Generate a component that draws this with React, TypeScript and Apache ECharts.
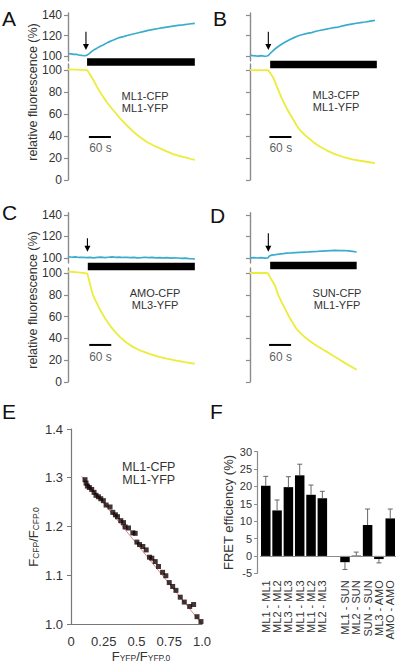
import React, { useEffect, useRef } from "react";
import * as echarts from "echarts";

// ---------------- DATA ----------------
// Panels A-D: time (s) vs relative fluorescence (%)
const A_CFP: number[][] = [[0,102.5],[8,102.1],[16,101.6],[23,101.7],[30,101],[38,100.6],[46,100.3],[52,100.9],[58,102.4],[64,104.3],[71,106.1],[78,107.5],[87,109.4],[96,110.8],[110,113.6],[124,115.7],[137,117.7],[151,119],[164,120.3],[178,121.5],[192,122.7],[205,123.8],[219,125.1],[233,126],[246,126.9],[260,127.7],[274,128.5],[287,129.2],[300,129.9],[314,130.5],[330,131.3],[346,131.8]];
const A_YFP: number[][] = [[0,100.6],[20,100.4],[40,100.2],[52,100],[60,96],[69,90.9],[78,85.4],[87,80.3],[96,75.6],[105,71.2],[114,67.3],[123,63.7],[133,59.8],[142,56.1],[160,49.8],[178,43.9],[196,39.1],[214,34.8],[232,31.6],[251,28.8],[269,26],[287,23.6],[305,21.8],[323,20.3],[335,19.1],[346,18.2]];
const B_CFP: number[][] = [[0,100.9],[8,100.5],[16,100.2],[23,100],[31,100.4],[39,99.8],[46,100.1],[50,100.6],[55,102.5],[61,104.6],[68,106.9],[77,109.3],[86,111.5],[95,113.4],[108,115.9],[120,118],[132,119.8],[144,121],[156,122.1],[168,122.9],[180,124.2],[193,125.2],[205,126],[217,126.9],[229,127.8],[241,128.3],[253,129.4],[265,130.4],[277,131.2],[290,132],[302,132.6],[314,133.2],[325,133.9],[336,134.6],[341,134.7]];
const B_YFP: number[][] = [[0,100],[20,100],[40,100],[50,99.8],[57,96.5],[64,92.6],[72,86],[79,80.4],[86,75],[93,69.8],[100,65.3],[109,60],[118,55],[127,49.8],[136,45.5],[152,40.2],[173,34.4],[191,30.3],[209,27],[230,23.8],[255,20.9],[282,18.6],[300,17.5],[318,16.6],[341,15.3]];
const C_CFP: number[][] = [[0,101.2],[10,100.6],[20,100.9],[30,100.4],[40,100.6],[50,100.2],[60,100.5],[70,100.1],[80,100.4],[90,100.7],[100,100.3],[110,100.6],[120,100.9],[130,100.5],[140,100.8],[150,100.4],[160,100.6],[170,100.2],[180,100.5],[190,100.1],[200,100.3],[210,100.6],[220,100.2],[230,100.5],[240,100.1],[250,100.3],[260,100],[270,100.2],[280,99.8],[290,100.1],[300,99.9],[310,99.6],[320,99.8],[330,99.4],[340,99.2],[346,98.8]];
const C_YFP: number[][] = [[0,101.2],[20,100.8],[40,100.2],[53,99.4],[57,94],[61,88.5],[65,83.5],[68,80],[73,76],[80,71.5],[87,66.5],[94,62.5],[100,59],[108,55],[115,51.5],[124,47.8],[133,44.3],[142,41.2],[160,36],[178,32],[200,28.5],[224,25.5],[246,23.3],[269,21.5],[296,19.6],[323,18],[337,17.2],[346,16.8]];
const D_CFP: number[][] = [[0,100],[10,100.3],[20,99.9],[30,100.2],[40,99.8],[49,100.1],[53,101.8],[59,102.6],[70,103],[80,103.6],[90,103.9],[100,104.4],[112,104.6],[124,104.9],[136,105.2],[148,105.4],[160,105.6],[172,105.9],[184,106],[196,106.4],[208,106.6],[220,106.8],[232,107],[244,106.8],[256,106.9],[268,106.5],[280,106],[291,105.5]];
const D_YFP: number[][] = [[0,100],[20,100],[40,100],[49,99.8],[55,96],[62,92],[68,88.5],[78,79],[86,73.5],[95,67.5],[105,61],[116,54.5],[127,48.7],[136,45.5],[150,41],[166,37],[182,33.3],[200,29.5],[227,24],[245,20.5],[264,16.4],[278,13.8],[291,11.2]];

const arrowTimes = [49, 50, 53, 50];
const stimulusStart = [52, 55, 54, 55];
const stimulusEnd = [346, 346, 346, 291];
const scaleBarSeconds = 60;
const pairCFP = ["ML1-CFP", "ML3-CFP", "AMO-CFP", "SUN-CFP"];
const pairYFP = ["ML1-YFP", "ML1-YFP", "ML3-YFP", "ML1-YFP"];
const panelLetters = ["A", "B", "C", "D", "E", "F"];
const upperTicks = [100, 120, 140];
const lowerTicks = [0, 20, 40, 60, 80, 100];

// Panel E: FYFP/FYFP,0 vs FCFP/FCFP,0
const E_X = [0.107,0.115,0.125,0.140,0.158,0.176,0.191,0.209,0.227,0.247,0.268,0.298,0.319,0.339,0.355,0.380,0.401,0.413,0.439,0.472,0.490,0.503,0.523,0.548,0.574,0.599,0.617,0.643,0.668,0.699,0.724,0.750,0.776,0.801,0.834,0.865,0.906,0.936,0.962,0.992];
const E_Y = [1.296,1.289,1.283,1.280,1.276,1.270,1.264,1.261,1.257,1.253,1.244,1.240,1.229,1.224,1.220,1.212,1.208,1.199,1.197,1.187,1.186,1.168,1.163,1.159,1.152,1.137,1.135,1.128,1.118,1.106,1.099,1.085,1.077,1.069,1.055,1.045,1.036,1.040,1.015,1.005];
const E_FIT_X = [0.082, 1.0];
const E_FIT_Y = [1.303, 1.0];
const E_TICKS_X = ["0", "0.25", "0.5", "0.75", "1.0"];

// Panel F: FRET efficiency (%)
const F_CATEGORIES = ["ML1 - ML1", "ML2 - ML2", "ML3 - ML3", "ML1 - ML3", "ML1 - ML2", "ML2 - ML3", "", "ML1 - SUN", "ML2 - SUN", "SUN - SUN", "ML3 - AMO", "AMO - AMO"];
const F_VALUES: (number | null)[] = [20.2, 13.1, 19.8, 23.2, 17.6, 16.6, null, -1.8, 0.1, 8.9, -0.9, 10.8];
const F_ERRORS: (number | null)[] = [2.7, 3.0, 3.0, 3.2, 2.8, 2.0, null, 2.1, 1.0, 4.6, 1.1, 2.7];

// ---------------- LAYOUT ----------------
const FONT = 'Arial, "Liberation Sans", Helvetica, sans-serif';
const AXIS = "#8c8c8c";
const TXT = "#333";
const CYAN = "#3aaccd";
const YELLOW = "#ecec3a";
const TS_WIDTH = 128.3; // 350 s

const traces = [[A_CFP, A_YFP], [B_CFP, B_YFP], [C_CFP, C_YFP], [D_CFP, D_YFP]];
const tsLayout = [
  { left: 68, uTop: 13, uH: 48, uMin: 95.2, lTop: 64, lH: 116, lMax: 105.5, labels: true, stimY: 97.8, arrowY: [123.8, 105.9], scale: [57, 39.1], scaleText: [88.7, 29.1], note: [145, 102] },
  { left: 250, uTop: 13, uH: 48, uMin: 95.2, lTop: 64, lH: 116, lMax: 105.5, labels: false, stimY: 95.4, arrowY: [123.8, 105.9], scale: [53, 39.1], scaleText: [84, 29.1], note: [336, 101] },
  { left: 68, uTop: 212.8, uH: 50.2, uMin: 95.25, lTop: 268, lH: 114, lMax: 104.6, labels: true, stimY: 95.5, arrowY: [118.3, 105.8], scale: [58, 34], scaleText: [88.7, 23.2], note: [155, 299] },
  { left: 250, uTop: 212.8, uH: 50.2, uMin: 95.25, lTop: 268, lH: 114, lMax: 104.6, labels: false, stimY: 96.5, arrowY: [122.9, 105.8], scale: [52, 34], scaleText: [83.5, 23], note: [337, 299] },
];

function buildOption(): any {
  const grid: any[] = [];
  const xAxis: any[] = [];
  const yAxis: any[] = [];
  const series: any[] = [];

  tsLayout.forEach((L, i) => {
    const [cfp, yfp] = traces[i];
    const u = 2 * i, l = 2 * i + 1;
    grid.push({ left: L.left, top: L.uTop, width: TS_WIDTH, height: L.uH, outerBoundsMode: "none" });
    grid.push({ left: L.left, top: L.lTop, width: TS_WIDTH, height: L.lH, outerBoundsMode: "none" });
    [u, l].forEach((g) => xAxis.push({ gridIndex: g, type: "value", min: 0, max: 350, show: false }));
    const yBase = (min: number, max: number, ticks: number[], g: number) => ({
      gridIndex: g, type: "value", min, max,
      axisLine: { show: true, lineStyle: { color: AXIS, width: 1.4 } },
      axisTick: { show: true, length: 4, customValues: ticks, lineStyle: { color: AXIS, width: 1.2 } },
      axisLabel: { show: L.labels, customValues: ticks, margin: 6, fontSize: 12, color: TXT, fontFamily: FONT },
      splitLine: { show: false },
    });
    yAxis.push(yBase(L.uMin, 142, upperTicks, u));
    yAxis.push(yBase(0, L.lMax, lowerTicks, l));

    series.push({ type: "line", xAxisIndex: u, yAxisIndex: u, data: cfp, showSymbol: false, lineStyle: { color: CYAN, width: 1.7 }, silent: true });
    series.push({ type: "line", xAxisIndex: l, yAxisIndex: l, data: yfp, showSymbol: false, lineStyle: { color: YELLOW, width: 1.8 }, silent: true });
    // stimulus bar
    series.push({
      type: "custom", xAxisIndex: u, yAxisIndex: u, clip: false, silent: true,
      data: [[stimulusStart[i], stimulusEnd[i], L.stimY]], encode: { x: [0, 1], y: 2 },
      renderItem: (_p: any, api: any) => {
        const a = api.coord([api.value(0), api.value(2)]);
        const b = api.coord([api.value(1), api.value(2)]);
        return { type: "rect", shape: { x: a[0], y: a[1], width: b[0] - a[0], height: 7.5 }, style: { fill: "#000" } };
      },
    });
    // arrow
    series.push({
      type: "custom", xAxisIndex: u, yAxisIndex: u, clip: false, silent: true,
      data: [[arrowTimes[i], L.arrowY[0], L.arrowY[1]]], encode: { x: 0, y: [1, 2] },
      renderItem: (_p: any, api: any) => {
        const top = api.coord([api.value(0), api.value(1)]);
        const tip = api.coord([api.value(0), api.value(2)]);
        return {
          type: "group", children: [
            { type: "line", shape: { x1: top[0], y1: top[1], x2: tip[0], y2: tip[1] - 4 }, style: { stroke: "#000", lineWidth: 1.1 } },
            { type: "polygon", shape: { points: [[tip[0] - 3, tip[1] - 6], [tip[0] + 3, tip[1] - 6], [tip[0], tip[1]]] }, style: { fill: "#000" } },
          ],
        };
      },
    });
    // scale bar
    series.push({
      type: "line", xAxisIndex: l, yAxisIndex: l, silent: true, showSymbol: false,
      data: [[L.scale[0], L.scale[1]], [L.scale[0] + scaleBarSeconds, L.scale[1]]],
      lineStyle: { color: "#000", width: 2 },
    });
    series.push({
      type: "scatter", xAxisIndex: l, yAxisIndex: l, silent: true, symbolSize: 1,
      itemStyle: { color: "rgba(0,0,0,0)" },
      data: [[L.scaleText[0], L.scaleText[1]]],
      label: { show: true, position: "inside", formatter: `${scaleBarSeconds} s`, color: TXT, fontSize: 12, fontFamily: FONT },
    });
  });

  // Panel E (index 8)
  grid.push({ left: 71, top: 429, width: 131, height: 195, outerBoundsMode: "none" });
  xAxis.push({
    gridIndex: 8, type: "value", min: 0, max: 1, interval: 0.25,
    axisLine: { show: true, lineStyle: { color: "#777", width: 1.2 } },
    axisTick: { show: false },
    axisLabel: { margin: 11, fontSize: 13, color: TXT, fontFamily: FONT, formatter: (v: number) => E_TICKS_X[Math.round(v * 4)] },
    splitLine: { show: false },
  });
  yAxis.push({
    gridIndex: 8, type: "value", min: 1.0, max: 1.4, interval: 0.1,
    axisLine: { show: true, lineStyle: { color: "#777", width: 1.2 } },
    axisTick: { show: true, length: 4, lineStyle: { color: "#777" } },
    axisLabel: { margin: 8, fontSize: 13, color: TXT, fontFamily: FONT, formatter: (v: number) => v.toFixed(1) },
    splitLine: { show: false },
  });
  series.push({
    type: "line", xAxisIndex: 8, yAxisIndex: 8, silent: true, showSymbol: false,
    data: E_FIT_X.map((x, i) => [x, E_FIT_Y[i]]), lineStyle: { color: "#e08a8a", width: 1 }, z: 1,
  });
  series.push({
    type: "scatter", xAxisIndex: 8, yAxisIndex: 8, silent: true, symbol: "rect", symbolSize: 5,
    data: E_X.map((x, i) => [x, E_Y[i]]), itemStyle: { color: "#140404" }, z: 2,
  });

  // Panel F (index 9)
  grid.push({ left: 260.1, top: 451.7, width: 135.8, height: 121.6, outerBoundsMode: "none" });
  xAxis.push({
    gridIndex: 9, type: "category", data: F_CATEGORIES,
    axisLine: { show: false }, axisTick: { show: false },
    axisLabel: { interval: 0, rotate: 90, margin: 7, fontSize: 11, color: TXT, fontFamily: FONT },
  });
  yAxis.push({
    gridIndex: 9, type: "value", min: -5, max: 30, interval: 5, offset: 3,
    axisLine: { show: true, lineStyle: { color: AXIS, width: 1.2 } },
    axisTick: { show: true, length: 3, lineStyle: { color: AXIS } },
    axisLabel: { margin: 5, fontSize: 11, color: TXT, fontFamily: FONT },
    splitLine: { show: false },
    name: "FRET efficiency (%)", nameLocation: "middle", nameGap: 22,
    nameTextStyle: { fontSize: 13, color: TXT, fontFamily: FONT },
  });
  series.push({
    type: "bar", xAxisIndex: 9, yAxisIndex: 9, silent: true, barWidth: "84%",
    data: F_VALUES.map((v) => (v === null ? "-" : v)), itemStyle: { color: "#000" },
    markLine: {
      silent: true, symbol: "none", label: { show: false },
      lineStyle: { color: AXIS, width: 1, type: "solid" }, data: [{ yAxis: 0 }],
    },
  });
  series.push({
    type: "custom", xAxisIndex: 9, yAxisIndex: 9, silent: true, clip: false, z: 3,
    data: F_VALUES.map((v, i) => (v === null ? null : [i, v, v + (v < 0 ? -1 : 1) * (F_ERRORS[i] as number)])).filter((d) => d !== null),
    encode: { x: 0, y: [1, 2] },
    renderItem: (_p: any, api: any) => {
      const a = api.coord([api.value(0), api.value(1)]);
      const b = api.coord([api.value(0), api.value(2)]);
      return {
        type: "group", children: [
          { type: "line", shape: { x1: a[0], y1: a[1], x2: b[0], y2: b[1] }, style: { stroke: "#666", lineWidth: 1 } },
          { type: "line", shape: { x1: b[0] - 2.5, y1: b[1], x2: b[0] + 2.5, y2: b[1] }, style: { stroke: "#666", lineWidth: 1 } },
        ],
      };
    },
  });

  // graphic texts
  const letterPos = [[2, 18], [213, 18], [2, 212.5], [210, 215], [2, 411.5], [210, 411.5]];
  const graphic: any[] = panelLetters.map((t, i) => ({
    type: "text", x: letterPos[i][0], y: letterPos[i][1], silent: true,
    style: { text: t, fontSize: 21, fontFamily: FONT, fill: "#111", align: "left", verticalAlign: "middle" },
  }));
  [[33, 92], [33, 300]].forEach(([x, y]) => graphic.push({
    type: "text", x, y, rotation: Math.PI / 2, silent: true,
    style: { text: "relative fluorescence (%)", fontSize: 12.5, fontFamily: FONT, fill: TXT, align: "center", verticalAlign: "middle" },
  }));
  tsLayout.forEach((L, i) => graphic.push({
    type: "text", x: L.note[0], y: L.note[1], silent: true,
    style: { text: `${pairCFP[i]}\n${pairYFP[i]}`, fontSize: 11, lineHeight: 12, fontFamily: FONT, fill: TXT, align: "center", verticalAlign: "middle" },
  }));
  graphic.push({
    type: "text", x: 148.7, y: 473.5, silent: true,
    style: { text: "ML1-CFP\nML1-YFP", fontSize: 12.5, lineHeight: 13.3, fontFamily: FONT, fill: TXT, align: "center", verticalAlign: "middle" },
  });
  const rich = {
    a: { fontSize: 13, fontFamily: FONT, fill: TXT, verticalAlign: "bottom", lineHeight: 15 },
    b: { fontSize: 8.5, fontFamily: FONT, fill: TXT, verticalAlign: "bottom", lineHeight: 15 },
  };
  graphic.push({
    type: "text", x: 32.5, y: 537, rotation: Math.PI / 2, silent: true,
    style: { text: "{a|F}{b|CFP}{a|/F}{b|CFP.0}", rich, align: "center", verticalAlign: "middle" },
  });
  graphic.push({
    type: "text", x: 141, y: 655, silent: true,
    style: { text: "{a|F}{b|YFP}{a|/F}{b|YFP.0}", rich, align: "center", verticalAlign: "middle" },
  });

  return {
    animation: false,
    backgroundColor: "#fff",
    textStyle: { fontFamily: FONT },
    grid, xAxis, yAxis, series, graphic,
  };
}

export default function App() {
  const ref = useRef<HTMLDivElement>(null);
  useEffect(() => {
    const chart = echarts.init(ref.current as HTMLDivElement, undefined, { renderer: "svg" });
    chart.setOption(buildOption());
    return () => chart.dispose();
  }, []);
  return <div ref={ref} style={{ position: "fixed", left: 0, top: 0, width: 400, height: 664, background: "#fff" }} />;
}
